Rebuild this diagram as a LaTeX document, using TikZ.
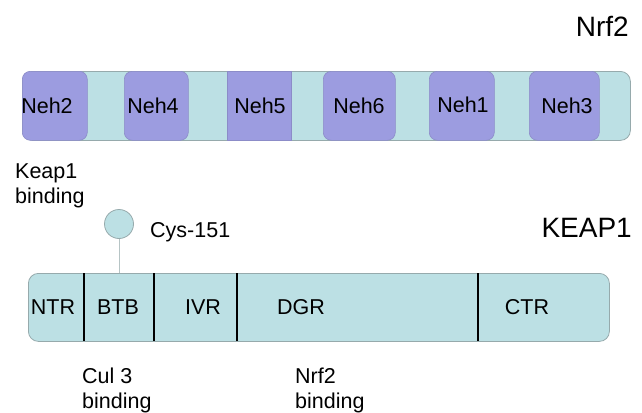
\documentclass[tikz,border=0pt]{standalone}
\usepackage{fontspec}
\setmainfont{Liberation Sans}
\definecolor{barfill}{RGB}{188,224,228}
\definecolor{barline}{RGB}{150,170,172}
\definecolor{nehfill}{RGB}{156,156,224}
\definecolor{nehline}{RGB}{140,140,200}
\begin{document}
\begin{tikzpicture}[x=1pt,y=-1pt,
  bar/.style={draw=barline,fill=barfill,line width=0.8pt,rounded corners=10pt,inner sep=0pt,anchor=north west},
  neh/.style={draw=nehline,fill=nehfill,line width=0.6pt,rounded corners=8pt,inner sep=0pt,anchor=north west,minimum height=69pt},
  lbl/.style={font=\fontsize{21.5}{25}\selectfont,inner sep=0pt},
  title/.style={font=\fontsize{28}{32}\selectfont,inner sep=0pt,anchor=base east},
  divider/.style={line width=1.2pt,black}]
\useasboundingbox (0,0) rectangle (642,412);
% Nrf2 bar
\node[bar,minimum width=608pt,minimum height=69pt] (nrfbar) at (22,71) {};
\node[neh,minimum width=65pt] (neh2) at (22,71) {};
\node[neh,minimum width=64pt] (neh4) at (124,71) {};
\node[neh,minimum width=64pt,rounded corners=0pt] (neh5) at (227,71) {};
\node[neh,minimum width=72pt] (neh6) at (323,71) {};
\node[neh,minimum width=65pt] (neh1) at (429,71) {};
\node[neh,minimum width=70pt] (neh3) at (529,71) {};
\node[lbl] at (47,106) {Neh2};
\node[lbl] at (153,106) {Neh4};
\node[lbl] at (260,106) {Neh5};
\node[lbl] at (359,106) {Neh6};
\node[lbl] at (463,105) {Neh1};
\node[lbl] at (567,106) {Neh3};
\node[title] (nrftitle) at (629,37) {Nrf2};
\node[lbl,align=left,anchor=north west] (keapbind) at (15,164) {Keap1\\binding};
% KEAP1 bar
\node[bar,minimum width=581pt,minimum height=68pt] (keapbar) at (28,273) {};
\coordinate (d1t) at (84,273); \coordinate (d1b) at (84,341);
\coordinate (d2t) at (154,273); \coordinate (d2b) at (154,341);
\coordinate (d3t) at (237,273); \coordinate (d3b) at (237,341);
\coordinate (d4t) at (478,273); \coordinate (d4b) at (478,341);
\draw[divider] (d1t) -- (d1b);
\draw[divider] (d2t) -- (d2b);
\draw[divider] (d3t) -- (d3b);
\draw[divider] (d4t) -- (d4b);
\node[lbl] (ntr) at (53,307) {NTR};
\node[lbl] (btb) at (118,307) {BTB};
\node[lbl] (ivr) at (203,307) {IVR};
\node[lbl] (dgr) at (301,307) {DGR};
\node[lbl] (ctr) at (527,307) {CTR};
\node[title] (keaptitle) at (632,237) {KEAP1};
% Cys-151
\node[circle,draw=barline,fill=barfill,line width=0.8pt,minimum size=29pt,inner sep=0pt] (cys) at (119,224) {};
\coordinate (cysfoot) at (119,273);
\draw[barline!70,line width=0.8pt] (cys.south) -- (cysfoot);
\node[lbl,anchor=base west] (cyslbl) at (150,237) {Cys-151};
% bottom labels
\node[lbl,align=left,anchor=north west] (cul) at (82,368) {Cul 3\\binding};
\node[lbl,align=left,anchor=north west] (nrfbind) at (295,368) {Nrf2\\binding};
\end{tikzpicture}
\end{document}
